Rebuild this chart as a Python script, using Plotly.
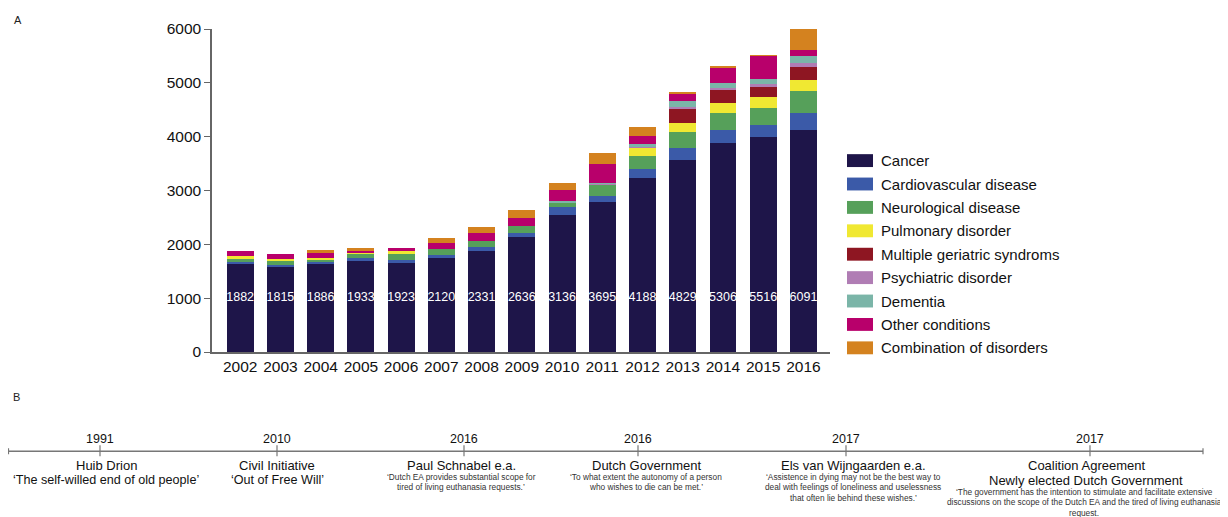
import plotly.graph_objects as go

# ---------------- data ----------------
years = ["2002", "2003", "2004", "2005", "2006", "2007", "2008", "2009",
         "2010", "2011", "2012", "2013", "2014", "2015", "2016"]
totals = [1882, 1815, 1886, 1933, 1923, 2120, 2331, 2636, 3136, 3695,
          4188, 4829, 5306, 5516, 6091]

cancer = [1643, 1595, 1640, 1707, 1647, 1748, 1884, 2134, 2539, 2791, 3238, 3570, 3877, 3987, 4122]
cardiovascular = [29, 19, 31, 30, 62, 55, 61, 68, 160, 111, 160, 228, 245, 227, 312]
neurological = [68, 79, 49, 86, 103, 105, 116, 135, 74, 208, 245, 294, 312, 312, 413]
pulmonary = [37, 31, 30, 24, 74, 0, 0, 0, 0, 0, 160, 171, 184, 210, 207]
geriatric = [0, 0, 0, 0, 0, 0, 0, 0, 0, 0, 0, 245, 258, 184, 245]
psychiatric = [0, 0, 0, 0, 0, 0, 0, 0, 10, 13, 14, 44, 37, 55, 68]
dementia = [0, 0, 0, 0, 0, 0, 0, 0, 14, 23, 42, 103, 81, 103, 135]
other = [105, 91, 86, 31, 37, 116, 147, 154, 209, 350, 147, 155, 300, 424, 99]
combination = [0, 0, 50, 55, 0, 96, 123, 145, 130, 199, 182, 19, 12, 14, 490]

series_names = ["Cancer", "Cardiovascular disease", "Neurological disease",
                "Pulmonary disorder", "Multiple geriatric syndroms",
                "Psychiatric disorder", "Dementia", "Other conditions",
                "Combination of disorders"]
series_values = [cancer, cardiovascular, neurological, pulmonary, geriatric,
                 psychiatric, dementia, other, combination]
series_colors = ["#1e1549", "#3b5aa8", "#56a05a", "#f0e832", "#8e1622",
                 "#b07db4", "#7bb5a8", "#b8006b", "#d4821f"]

# timeline (panel B)
tl_years = ["1991", "2010", "2016", "2016", "2017", "2017"]
tl_titles = [["Huib Drion"], ["Civil Initiative"], ["Paul Schnabel e.a."],
             ["Dutch Government"], ["Els van Wijngaarden e.a."],
             ["Coalition Agreement", "Newly elected Dutch Government"]]
tl_big_quotes = ["\u2018The self-willed end of old people\u2019",
                 "\u2018Out of Free Will\u2019", None, None, None, None]
tl_small_quotes = [
    [], [],
    ["\u2018Dutch EA provides substantial scope for",
     "tired of living euthanasia requests.\u2019"],
    ["\u2018To what extent the autonomy of a person",
     "who wishes to die can be met.\u2019"],
    ["\u2018Assistence in dying may not be the best way to",
     "deal with feelings of loneliness and uselessness",
     "that often lie behind these wishes.\u2019"],
    ["\u2018The government has the intention to stimulate and facilitate extensive",
     "discussions on the scope of the Dutch EA and the tired of living euthanasia",
     "request."],
]

# ---------------- layout helpers (screen pixel -> paper) ----------------
OFF = 8  # page body margin
W, H = 1228 - OFF, 517 - OFF
PL, PR, PT, PB = 212, 830, 26, 351.7   # plot area in screen pixels
ML, MR, MT, MB = PL - OFF, W - (PR - OFF), PT - OFF, H - (PB - OFF)


def px(x):
    return (x - PL) / (PR - PL)


def py(y):
    return (PB - y) / (PB - PT)


FONT = "Arial, Liberation Sans, sans-serif"

fig = go.Figure()
for name, vals, col in zip(series_names, series_values, series_colors):
    fig.add_trace(go.Bar(x=years, y=vals, name=name, marker_color=col,
                         marker_line_width=0, showlegend=False))

fig.add_trace(go.Scatter(x=years, y=[1000] * len(years), mode="text",
                         text=[str(t) for t in totals],
                         textfont=dict(color="white", size=12.5, family=FONT),
                         showlegend=False, hoverinfo="skip"))

shapes = []
annotations = []

# manual legend
leg_x0, leg_x1 = 847, 873
leg_y0, leg_dy = 158.7, 23.6
for i, (name, col) in enumerate(zip(series_names, series_colors)):
    cy = leg_y0 + i * leg_dy
    shapes.append(dict(type="rect", xref="paper", yref="paper",
                       x0=px(leg_x0), x1=px(leg_x1), y0=py(cy + 6.5), y1=py(cy - 6.5),
                       fillcolor=col, line=dict(width=0)))
    annotations.append(dict(xref="paper", yref="paper", x=px(879), y=py(cy),
                            xanchor="left", yanchor="middle", showarrow=False,
                            text=name, font=dict(size=15, family=FONT, color="#111")))

# panel labels
annotations.append(dict(xref="paper", yref="paper", x=px(12), y=py(17),
                        xanchor="left", yanchor="middle", showarrow=False,
                        text="A", font=dict(size=11, family=FONT, color="#222")))
annotations.append(dict(xref="paper", yref="paper", x=px(11), y=py(397),
                        xanchor="left", yanchor="middle", showarrow=False,
                        text="B", font=dict(size=11, family=FONT, color="#222")))

# timeline
line_y = 451.7
line_col = "#777"
shapes.append(dict(type="line", xref="paper", yref="paper",
                   x0=px(8.5), x1=px(1203), y0=py(line_y), y1=py(line_y),
                   line=dict(color=line_col, width=1.5)))
for ex in (8.5, 1203):
    shapes.append(dict(type="line", xref="paper", yref="paper",
                       x0=px(ex), x1=px(ex), y0=py(line_y - 3), y1=py(line_y + 3),
                       line=dict(color=line_col, width=1.2)))

tl_x = [100, 277, 464, 638, 846, 1090]
quote_x = [106, 277, 461, 646, 853, 1086]
small_x = [0, 0, 461, 646, 853, 1084]
for i, xc in enumerate(tl_x):
    shapes.append(dict(type="line", xref="paper", yref="paper",
                       x0=px(xc), x1=px(xc), y0=py(line_y - 6), y1=py(line_y + 5),
                       line=dict(color=line_col, width=1.2)))
    annotations.append(dict(xref="paper", yref="paper", x=px(xc), y=py(439.5),
                            xanchor="center", yanchor="middle", showarrow=False,
                            text=tl_years[i], font=dict(size=12.5, family=FONT, color="#111")))
    ty = 466
    for t in tl_titles[i]:
        annotations.append(dict(xref="paper", yref="paper", x=px(quote_x[i]), y=py(ty),
                                xanchor="center", yanchor="middle", showarrow=False,
                                text=t, font=dict(size=13, family=FONT, color="#111")))
        ty += 15
    if tl_big_quotes[i]:
        annotations.append(dict(xref="paper", yref="paper", x=px(quote_x[i]), y=py(481),
                                xanchor="center", yanchor="middle", showarrow=False,
                                text=tl_big_quotes[i],
                                font=dict(size=12.6, family=FONT, color="#111")))
    sy = 477.7 if len(tl_titles[i]) == 1 else 492.7
    for s in tl_small_quotes[i]:
        annotations.append(dict(xref="paper", yref="paper", x=px(small_x[i]), y=py(sy),
                                xanchor="center", yanchor="middle", showarrow=False,
                                text=s, font=dict(size=8.3, family=FONT, color="#333")))
        sy += 10.6

fig.update_layout(
    width=W, height=H,
    margin=dict(l=ML, r=MR, t=MT, b=MB, pad=0),
    barmode="stack", bargap=0.33,
    plot_bgcolor="white", paper_bgcolor="white",
    font=dict(family=FONT, color="#111"),
    shapes=shapes, annotations=annotations,
    showlegend=False,
)
fig.update_xaxes(type="category", range=[-0.7, 14.66], showline=True,
                 linecolor="#666", linewidth=1.5, ticks="", showgrid=False,
                 tickfont=dict(size=15.5, family=FONT, color="#111"))
fig.update_yaxes(range=[0, 6000], tickvals=[0, 1000, 2000, 3000, 4000, 5000, 6000],
                 showline=True, linecolor="#666", linewidth=1.5, ticks="outside",
                 ticklen=6, tickcolor="#666", showgrid=False, zeroline=False,
                 tickfont=dict(size=15.5, family=FONT, color="#111"))

fig.write_html("out.html")
